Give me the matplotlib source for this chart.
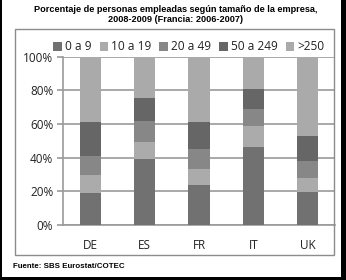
import matplotlib
matplotlib.use("Agg")
import matplotlib.pyplot as plt
from matplotlib.patches import Rectangle
import numpy as np

categories = ["DE", "ES", "FR", "IT", "UK"]
series_names = ["0 a 9", "10 a 19", "20 a 49", "50 a 249", ">250"]
s_0_9 = [19, 39, 24, 46.5, 19.5]
s_10_19 = [10.5, 10.5, 9, 12, 8.5]
s_20_49 = [11.5, 12, 12, 10.5, 10]
s_50_249 = [20, 14, 16, 12, 15]
s_250 = [100 - a - b - c - d for a, b, c, d in zip(s_0_9, s_10_19, s_20_49, s_50_249)]
series = [s_0_9, s_10_19, s_20_49, s_50_249, s_250]
colors = ["#717171", "#ababab", "#878787", "#666666", "#aaaaaa"]
yticks = [0, 20, 40, 60, 80, 100]
ytick_labels = ["0%", "20%", "40%", "60%", "80%", "100%"]

W, H = 346, 280
fig = plt.figure(figsize=(W / 100, H / 100), dpi=100)
fig.patch.set_facecolor("white")

# chart-area frame
fig.patches.append(Rectangle((15 / W, 1 - 255 / H), 319 / W, 226 / H,
                             transform=fig.transFigure, fill=False,
                             edgecolor="#8c8c8c", lw=1.0))
# outer black border pieces (left, right, bottom)
for (x0, y0, w, h) in [(0, 0, 2, H), (341, 0, 5, H), (0, 277, W, 3)]:
    fig.patches.append(Rectangle((x0 / W, 1 - (y0 + h) / H), w / W, h / H,
                                 transform=fig.transFigure, facecolor="black",
                                 edgecolor="none"))

ax = fig.add_axes([63 / W, 1 - 225 / H, (335 - 63) / W, (225 - 56.5) / H])
x = np.arange(len(categories))
bottom = np.zeros(len(categories))
handles = []
for name, vals, c in zip(series_names, series, colors):
    h = ax.bar(x, vals, width=0.39, bottom=bottom, color=c, label=name,
               zorder=3, linewidth=0)
    handles.append(h)
    bottom += np.array(vals)

ax.set_xlim(-0.5, len(categories) - 0.5)
ax.set_ylim(0, 100)
ax.set_yticks(yticks)
ax.set_yticklabels(ytick_labels)
ax.set_xticks(x)
ax.set_xticklabels(categories)
ax.yaxis.grid(True, color="#9a9a9a", lw=1.2, zorder=0)
for side in ["top", "right"]:
    ax.spines[side].set_visible(False)
ax.spines["left"].set_color("#9a9a9a")
ax.spines["bottom"].set_color("#9a9a9a")
ax.spines["left"].set_linewidth(1.2)
ax.spines["bottom"].set_linewidth(1.2)
ax.tick_params(axis="y", length=4, width=1.2, color="#9a9a9a",
               labelsize=8.5, labelcolor="#222222", pad=3)
ax.tick_params(axis="x", length=0, labelsize=8.5, labelcolor="#222222", pad=10)
for lab in ax.get_xticklabels() + ax.get_yticklabels():
    lab.set_family("Open Sans")

leg = fig.legend(handles=handles, labels=series_names, loc="center",
                 bbox_to_anchor=(189 / W, 1 - 47 / H), ncol=5, frameon=False,
                 handlelength=0.7, handleheight=0.7, handletextpad=0.3,
                 columnspacing=0.65, borderaxespad=0,
                 prop={"family": "Open Sans", "size": 8.6})
for t in leg.get_texts():
    t.set_color("#222222")

fig.text(176 / W, 1 - 9 / H, "Porcentaje de personas empleadas según tamaño de la empresa,",
         ha="center", va="center", fontsize=6.6, fontweight="bold",
         family="Liberation Sans")
fig.text(176 / W, 1 - 20 / H, "2008-2009 (Francia: 2006-2007)",
         ha="center", va="center", fontsize=6.6, fontweight="bold",
         family="Liberation Sans")
fig.text(13 / W, 1 - 266 / H, "Fuente: SBS Eurostat/COTEC",
         ha="left", va="center", fontsize=5.7, fontweight="bold",
         family="Liberation Sans")

fig.savefig("out.png", dpi=100)
